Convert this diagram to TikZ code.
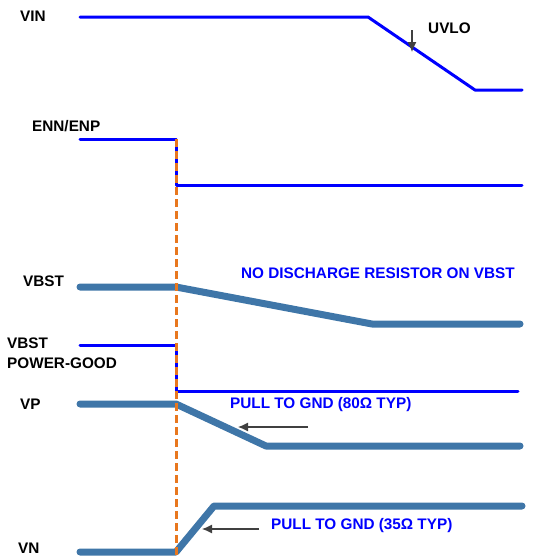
\documentclass[tikz,border=0pt]{standalone}
\usepackage{fontspec}
\setmainfont{Liberation Sans}
\usepackage{xcolor}
\definecolor{SigBlue}{HTML}{0000FF}
\definecolor{RailBlue}{HTML}{3F76A8}
\definecolor{MarkOrange}{HTML}{E8771E}
\definecolor{ArrowGray}{HTML}{404040}
\usetikzlibrary{arrows.meta}

\begin{document}
\begin{tikzpicture}[
  x=1pt,y=-1pt,
  >=Latex,
  sig/.style={font=\bfseries\fontsize{15.3}{20}\selectfont,anchor=west,inner sep=0pt,text height=11pt,text depth=0pt},
  note/.style={sig,text=SigBlue},
  logic/.style={draw=SigBlue,line width=3pt,line cap=round,line join=round},
  rail/.style={draw=RailBlue,line width=7pt,line cap=round,line join=round},
  pointer/.style={-{Latex[length=10pt,width=9pt]},draw=ArrowGray,line width=1.2pt}
]
\useasboundingbox (0,0) rectangle (535,560);

% signal names
\node[sig] (vin) at (20,16) {VIN};
\node[sig] (enn) at (32,126) {ENN/ENP};
\node[sig] (vbst) at (23,281) {VBST};
\node[sig,align=left,anchor=north west,text height=,text depth=] (pgood) at (7,338) {VBST\\POWER-GOOD};
\node[sig] (vp) at (20,404) {VP};
\node[sig] (vn) at (18,548) {VN};

% notes
\node[sig] (uvlo) at (428,28) {UVLO};
\node[note] (nodis) at (241,273) {NO DISCHARGE RESISTOR ON VBST};
\node[note] (pullp) at (230,403) {PULL TO GND (80Ω TYP)};
\node[note] (pulln) at (271,524) {PULL TO GND (35Ω TYP)};

% waveforms
\draw[logic] (80,17) -- (368,17) -- (475,90) -- (522,90);
\draw[logic] (80,139) -- (176,139) -- (176,185) -- (522,185);
\draw[rail] (80,287) -- (176,287) -- (372,324) -- (520,324);
\draw[logic] (80,345) -- (176,345) -- (176,391) -- (518,391);
\draw[rail] (80,404) -- (176,404) -- (266,446) -- (520,446);
\draw[rail] (80,552) -- (176,552) -- (214,506) -- (522,506);

% markers
\coordinate (uvlotop) at (412,30);
\coordinate (uvlotip) at (412,52);
\draw[pointer] (uvlotop) -- (uvlotip);
\coordinate (pptail) at (308,427);
\coordinate (pptip) at (238,427);
\draw[pointer] (pptail) -- (pptip);
\coordinate (pntail) at (259,529);
\coordinate (pntip) at (202,529);
\draw[pointer] (pntail) -- (pntip);

\coordinate (tdis) at (176,139);
\coordinate (tend) at (176,555);
\draw[MarkOrange,line width=3pt,dash pattern=on 8pt off 4pt] (tdis) -- (tend);
\end{tikzpicture}
\end{document}
